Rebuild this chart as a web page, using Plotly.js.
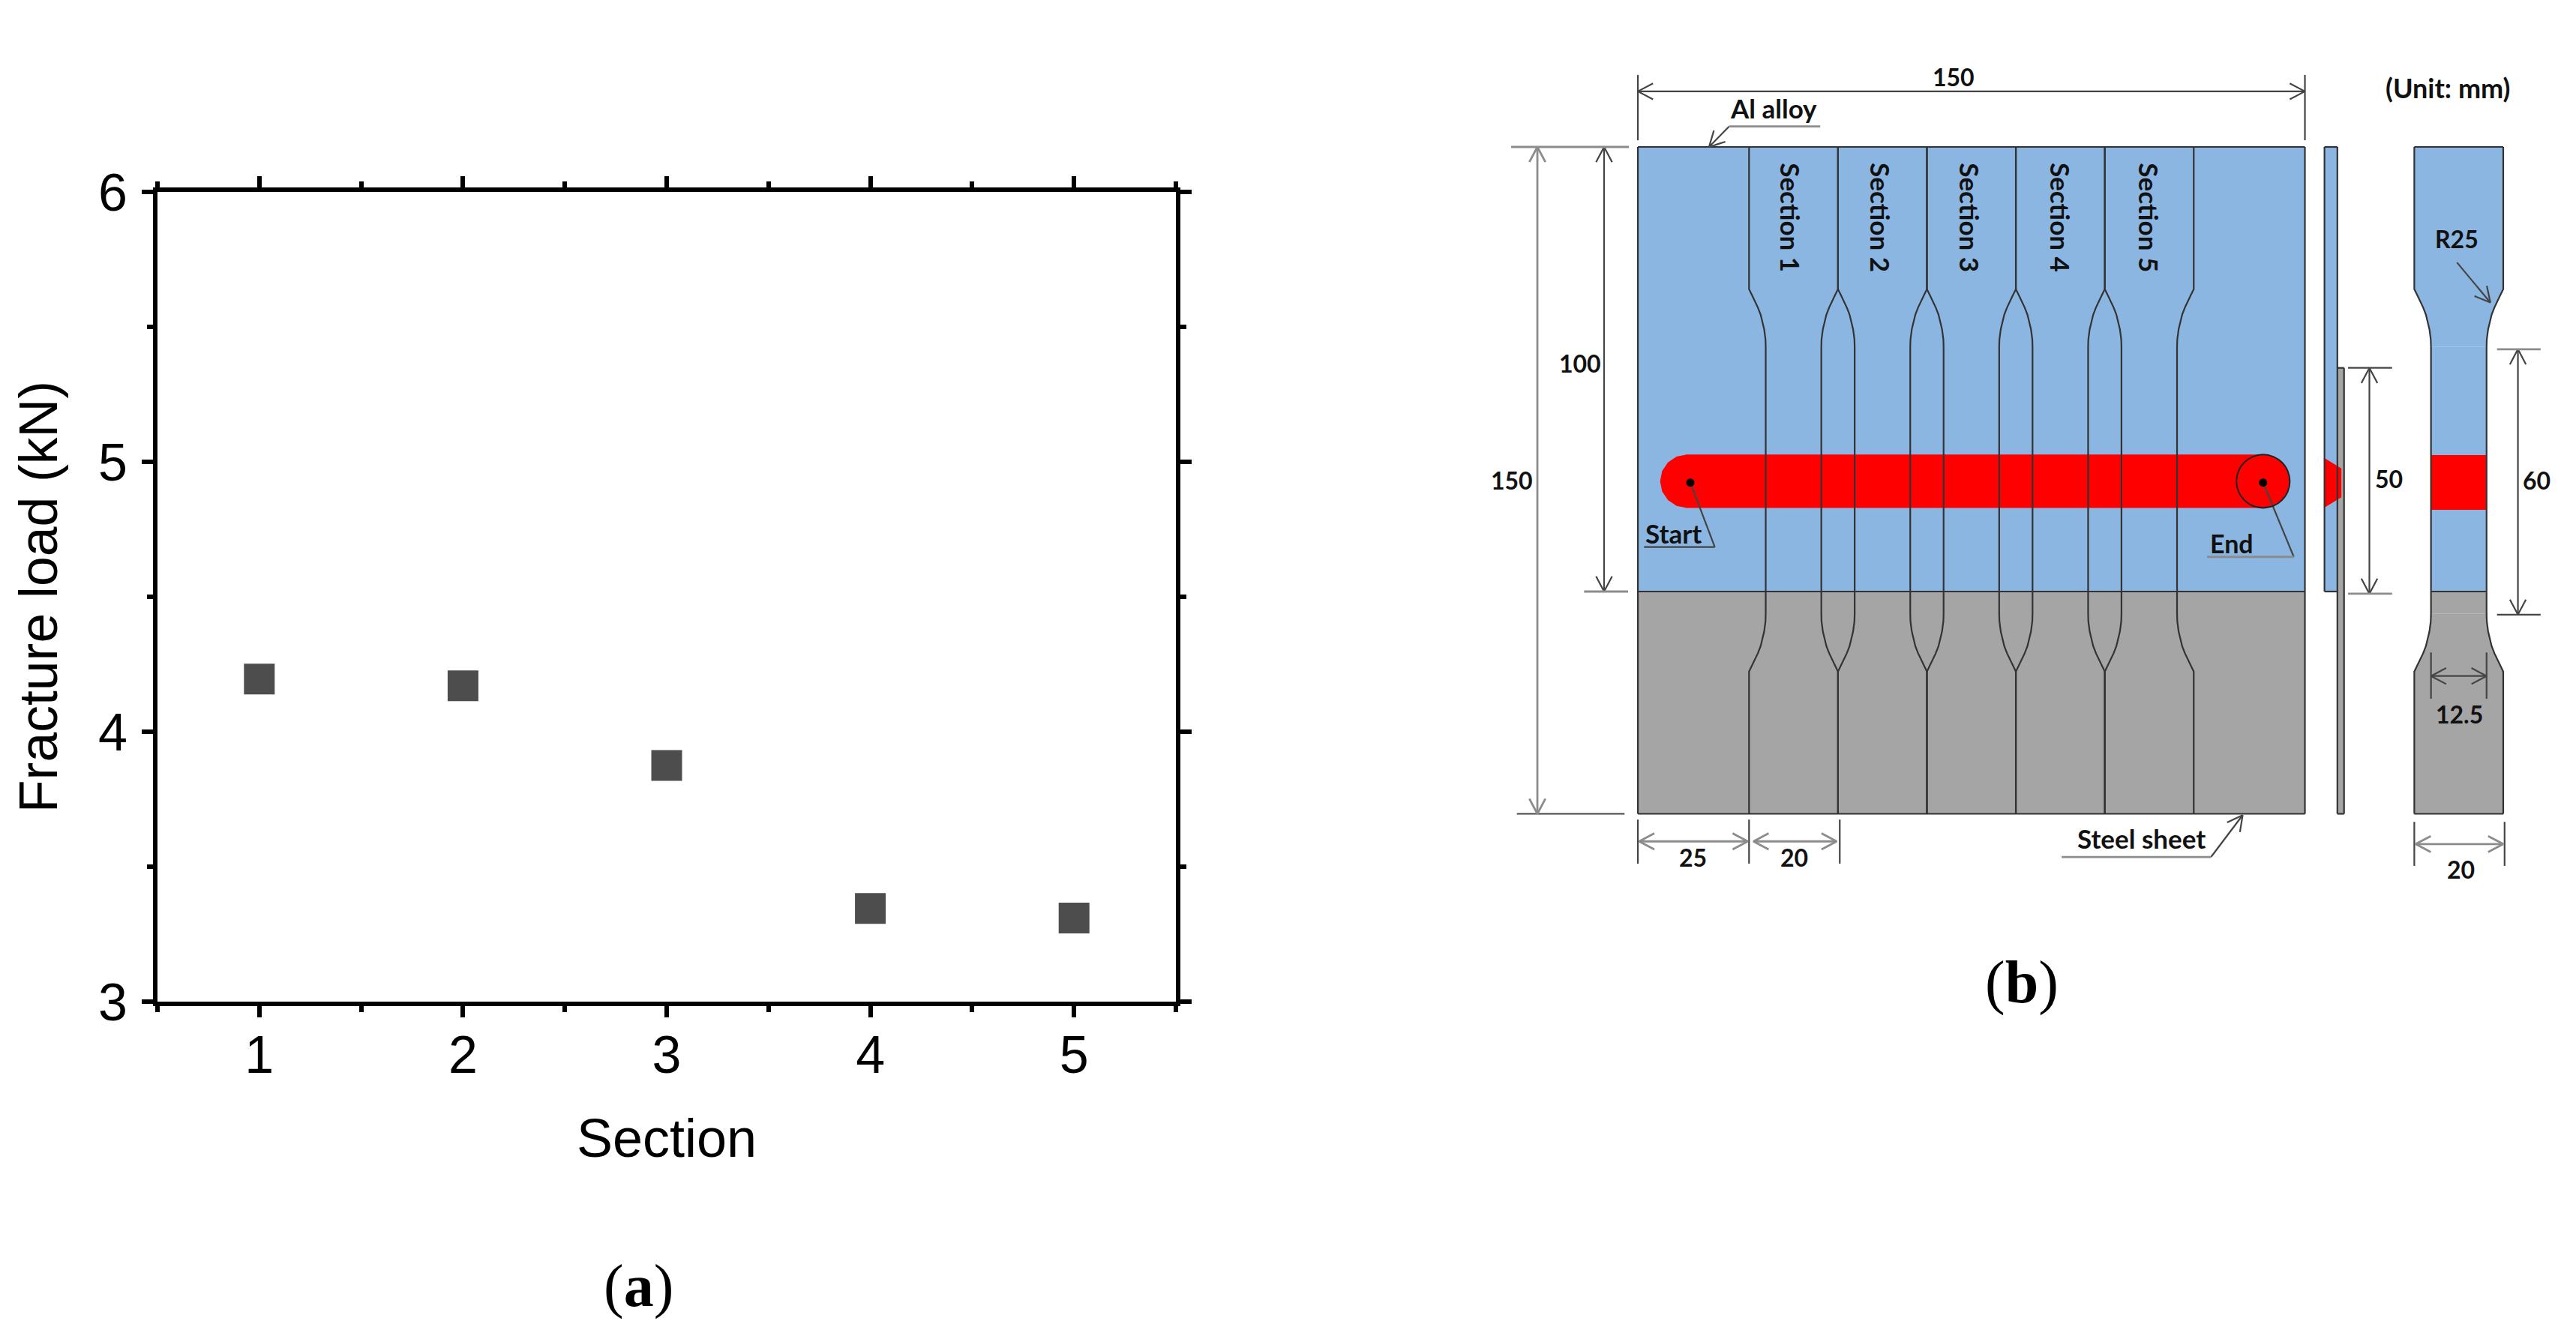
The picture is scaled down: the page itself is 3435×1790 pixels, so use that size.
<!DOCTYPE html>
<html>
<head>
<meta charset="utf-8">
<script src="https://cdn.plot.ly/plotly-3.0.1.min.js"></script>
<style>html,body{margin:0;padding:0;background:#fff}#plot{width:3435px;height:1790px}</style>
</head>
<body>
<div id="plot"></div>
<script>
// Panel (a) data
var sections = [1, 2, 3, 4, 5];
var fractureLoad = [4.195, 4.17, 3.875, 3.345, 3.31];
var xTickVals = [1, 2, 3, 4, 5];
var yTickVals = [3, 4, 5, 6];

// Panel (b) geometry, in millimetres
var plateWidth = 150, plateHeight = 150, jointY = 100;
var neckY = [32, 33.3, 34.6, 36.1, 37.7, 39.3, 41, 43.3, 45];
var neckDX = [0, 0.65, 1.3, 1.98, 2.6, 3.05, 3.4, 3.7, 3.75];
var sectionEdges = [[25, 1], [45, -1], [45, 1], [65, -1], [65, 1], [85, -1], [85, 1], [105, -1], [105, 1], [125, -1]];
var sectionLabels = ['Section 1', 'Section 2', 'Section 3', 'Section 4', 'Section 5'];
var sectionLabelX = [34.4, 54.5, 74.7, 95, 115];
var capDX = [0, 2.3, 4.24, 5.54, 6, 5.54, 4.24, 2.3, 0];
var capDY = [-6, -5.54, -4.24, -2.3, 0, 2.3, 4.24, 5.54, 6];
var weldStart = 11, weldEnd = 140.6, weldY = 75.2;

var DB0 = 174.6, DB1 = 194.6;   // specimen side view

function profile(xc, dir) {
  var xs = [xc], ys = [0];
  neckY.forEach(function (v, i) { xs.push(xc + dir * neckDX[i]); ys.push(v); });
  for (var i = neckY.length - 1; i >= 0; i--) { xs.push(xc + dir * neckDX[i]); ys.push(150 - neckY[i]); }
  xs.push(xc); ys.push(150);
  return [xs, ys];
}
function fillTrace(xs, ys, color) {
  return {x: xs, y: ys, xaxis: 'x2', yaxis: 'y2', type: 'scatter', mode: 'lines', fill: 'toself',
    fillcolor: color, line: {width: 0, color: color}, hoverinfo: 'skip', showlegend: false};
}
function lineTrace(segs, color, width) {
  var xs = [], ys = [];
  segs.forEach(function (s) { xs = xs.concat(s[0], [null]); ys = ys.concat(s[1], [null]); });
  return {x: xs, y: ys, xaxis: 'x2', yaxis: 'y2', type: 'scatter', mode: 'lines',
    line: {color: color, width: width}, hoverinfo: 'skip', showlegend: false};
}
function seg(x1, y1, x2, y2) { return [[x1, x2], [y1, y2]]; }
function vee(tx, ty, fx, fy) {   // open arrowhead at (tx,ty) pointing away from (fx,fy)
  var dx = fx - tx, dy = fy - ty, L = Math.sqrt(dx * dx + dy * dy);
  dx /= L; dy /= L;
  var a = 3.4, b = 1.8;
  return [[tx + dx * a - dy * b, tx, tx + dx * a + dy * b], [ty + dy * a + dx * b, ty, ty + dy * a - dx * b]];
}
function dim(x1, y1, x2, y2) { return [seg(x1, y1, x2, y2), vee(x1, y1, x2, y2), vee(x2, y2, x1, y1)]; }

// Fills
var weldCapX = capDX.map(function (d) { return weldEnd + d; })
  .concat(capDX.map(function (d) { return weldStart - d; }).reverse());
var weldCapY = capDY.map(function (d) { return weldY + d; })
  .concat(capDY.map(function (d) { return weldY + d; }).reverse());

var leftDB = profile(DB0, 1), rightDB = profile(DB1, -1);
function dbPart(y0, y1) {
  var xs = [], ys = [];
  for (var i = 0; i < leftDB[0].length; i++) if (leftDB[1][i] >= y0 && leftDB[1][i] <= y1) { xs.push(leftDB[0][i]); ys.push(leftDB[1][i]); }
  var rx = [], ry = [];
  for (var j = 0; j < rightDB[0].length; j++) if (rightDB[1][j] >= y0 && rightDB[1][j] <= y1) { rx.push(rightDB[0][j]); ry.push(rightDB[1][j]); }
  return [xs.concat(rx.reverse()), ys.concat(ry.reverse())];
}
var dbTop = dbPart(0, 100), dbBot = dbPart(100, 150);
var dbTopX = dbTop[0].slice(), dbTopY = dbTop[1].slice();
var dbBotX = dbBot[0].slice(), dbBotY = dbBot[1].slice();

var BLUE = '#8AB6E1', GRAY = '#A5A5A5', RED = '#FF0000', DARK = '#333333';
var traces = [
  {x: sections, y: fractureLoad, type: 'scatter', mode: 'markers',
   marker: {symbol: 'square', size: 41, color: '#4D4D4D'}, hoverinfo: 'skip', showlegend: false},
  fillTrace([0, plateWidth, plateWidth, 0, 0], [0, 0, jointY, jointY, 0], BLUE),
  fillTrace([0, plateWidth, plateWidth, 0, 0], [jointY, jointY, plateHeight, plateHeight, jointY], GRAY),
  fillTrace(weldCapX, weldCapY, RED),
  fillTrace([154.4, 157.3, 157.3, 154.4, 154.4], [0, 0, 100, 100, 0], BLUE),
  fillTrace([157.3, 158.8, 158.8, 157.3, 157.3], [49.7, 49.7, 150, 150, 49.7], GRAY),
  fillTrace([154.4, 158.2, 158.2, 154.4, 154.4], [70, 72.3, 78.8, 81.1, 70], RED),
  fillTrace(dbTopX, dbTopY, BLUE),
  fillTrace([178.35, 190.85, 190.85, 178.35, 178.35], [45, 45, 100, 100, 45], BLUE),
  fillTrace([178.35, 190.85, 190.85, 178.35, 178.35], [100, 100, 105, 105, 100], GRAY),
  fillTrace(dbBotX, dbBotY, GRAY),
  fillTrace([178.35, 190.85, 190.85, 178.35, 178.35], [69.3, 69.3, 81.6, 81.6, 69.3], RED)
];

var thin = [
  seg(0, 0, plateWidth, 0), seg(0, plateHeight, plateWidth, plateHeight),
  seg(0, 0, 0, plateHeight), seg(plateWidth, 0, plateWidth, plateHeight), seg(0, jointY, plateWidth, jointY),
  seg(154.4, 0, 154.4, 100), seg(157.3, 0, 157.3, 150), seg(158.8, 49.7, 158.8, 150),
  seg(154.4, 0, 157.3, 0), seg(154.4, 100, 157.3, 100), seg(157.3, 49.7, 158.8, 49.7), seg(157.3, 150, 158.8, 150),
  seg(DB0, 0, DB1, 0), seg(DB0, 150, DB1, 150), seg(178.35, 100, 190.85, 100), leftDB, rightDB
];
sectionEdges.forEach(function (e) { thin.push(profile(e[0], e[1])); });

var dims = [].concat(
  dim(0, -12.5, plateWidth, -12.5),
  dim(-7.6, 0, -7.6, jointY),
  dim(164.5, 49.7, 164.5, 100.5),
  dim(197.9, 45.5, 197.9, 105.2),
  dim(178.35, 119, 190.85, 119),
  [seg(0, -16.2, 0, -1.5), seg(150, -16.2, 150, -1.5),
   seg(0, 151.3, 0, 161.2), seg(25, 151.3, 25, 161.2), seg(45.4, 151.3, 45.4, 161.2),
   seg(DB0, 151.8, DB0, 161.7), seg(194.9, 151.8, 194.9, 161.7),
   seg(178.35, 113.7, 178.35, 124.1), seg(190.85, 113.7, 190.85, 124.1),
   seg(-27.2, 150, -3, 150), seg(159.7, 49.7, 169.6, 49.7), seg(193.2, 105.2, 203, 105.2)],
  // leaders
  [seg(20.5, -4.6, 16, 0), vee(16, 0, 20.5, -4.6),
   seg(1.4, 90, 17.3, 90), seg(17.3, 90, 11.8, 75.5),
   seg(147.5, 92.2, 140.6, 75.5),
   seg(184.2, 26, 191.7, 35), vee(191.7, 35, 184.2, 26),
   seg(128.9, 159.7, 136, 150.3), vee(136, 150.3, 128.9, 159.7)]
);
var grayDims = [].concat(
  dim(-22.6, 0, -22.6, plateHeight),
  dim(0.3, 156.2, 24.7, 156.2),
  dim(26, 156.2, 44.7, 156.2),
  dim(174.9, 156.8, 194.6, 156.8),
  [seg(-28.5, 0, -2, 0), seg(-12.1, 100, -2.2, 100), seg(159.7, 100.5, 169.6, 100.5), seg(193.2, 45.5, 203, 45.5),
   seg(41, -4.6, 20.5, -4.6), seg(128, 92.2, 147.5, 92.2), seg(95.3, 159.7, 128.9, 159.7)]
);

traces.push(lineTrace(thin, DARK, 2.2));
traces.push(lineTrace(dims, '#444444', 2.2));
traces.push(lineTrace(grayDims, '#8c8c8c', 2.8));

var endCircleX = capDX.map(function (d) { return weldEnd + d; }).concat(capDX.map(function (d) { return weldEnd - d; }).reverse());
var endCircleY = capDY.map(function (d) { return weldY + d; }).concat(capDY.map(function (d) { return weldY + d; }).reverse());
traces.push({x: endCircleX, y: endCircleY, xaxis: 'x2', yaxis: 'y2', type: 'scatter', mode: 'lines',
  line: {color: '#222', width: 2, shape: 'spline'}, hoverinfo: 'skip', showlegend: false});
traces.push({x: [11.8, 140.6], y: [75.5, 75.5], xaxis: 'x2', yaxis: 'y2', type: 'scatter', mode: 'markers',
  marker: {color: '#000', size: 11}, hoverinfo: 'skip', showlegend: false});

function note(text, x, y, size, angle) {
  return {text: text, x: x, y: y, xref: 'x2', yref: 'y2', showarrow: false, xanchor: 'center', yanchor: 'middle',
    font: {family: 'Lato, "Open Sans", sans-serif', size: size, color: '#111111', weight: 700}, textangle: angle || 0};
}
var annotations = [
  note('150', 71, -15.7, 32), note('Al alloy', 30.5, -8.8, 35), note('(Unit: mm)', 182.2, -13.3, 36),
  note('100', -13, 48.7, 32), note('150', -28.4, 74.9, 32), note('Start', 8, 86.9, 35), note('End', 133.6, 89.2, 34),
  note('R25', 184.2, 20.7, 32), note('50', 168.8, 74.6, 32), note('60', 202.1, 74.9, 32), note('12.5', 184.8, 127.6, 32),
  note('20', 185, 162.4, 32), note('25', 12.4, 159.7, 32), note('20', 35.2, 159.7, 32), note('Steel sheet', 113.2, 155.5, 35)
];
sectionLabels.forEach(function (t, i) { annotations.push(note(t, sectionLabelX[i], 15.9, 35, 90)); });
var CAP = {family: '"Liberation Serif", serif', size: 80, color: '#000'};
annotations.push({text: '(<b>a</b>)', xref: 'paper', yref: 'paper', x: 851 / 3435, y: 1 - 1715 / 1790, showarrow: false,
  xanchor: 'center', yanchor: 'middle', font: CAP});
annotations.push({text: '(<b>b</b>)', xref: 'paper', yref: 'paper', x: 2696 / 3435, y: 1 - 1310 / 1790, showarrow: false,
  xanchor: 'center', yanchor: 'middle', font: CAP});

var AX = {family: '"Liberation Sans", Arial, sans-serif', size: 70, color: '#000'};
var AXT = {family: '"Liberation Sans", Arial, sans-serif', size: 72, color: '#000'};
var AXY = {family: '"Liberation Sans", Arial, sans-serif', size: 71.5, color: '#000'};
function pxX(v) { return v / 3435; }
function pxY(v) { return 1 - v / 1790; }
var layout = {
  width: 3435, height: 1790, margin: {l: 0, r: 0, t: 0, b: 0, pad: 0},
  paper_bgcolor: '#fff', plot_bgcolor: 'rgba(0,0,0,0)', showlegend: false, hovermode: false,
  xaxis: {domain: [pxX(210), pxX(1568)], range: [0.5, 5.5], tickmode: 'array', tickvals: xTickVals,
    ticks: 'outside', ticklen: 15, tickwidth: 6, tickcolor: '#000', showline: true, linewidth: 6, linecolor: '#000',
    mirror: 'ticks', showgrid: false, zeroline: false, tickfont: AX, automargin: false, ticklabelstandoff: -10,
    minor: {dtick: 0.5, tick0: 0.5, ticks: 'outside', ticklen: 8, tickwidth: 6, tickcolor: '#000', showgrid: false},
    title: {text: 'Section', font: AXT, standoff: 50}},
  yaxis: {domain: [pxY(1336), pxY(256)], range: [3, 6], tickmode: 'array', tickvals: yTickVals,
    ticks: 'outside', ticklen: 15, tickwidth: 6, tickcolor: '#000', showline: true, linewidth: 6, linecolor: '#000',
    mirror: 'ticks', showgrid: false, zeroline: false, tickfont: AX, automargin: false, ticklabelstandoff: 5,
    minor: {dtick: 0.5, tick0: 3, ticks: 'outside', ticklen: 8, tickwidth: 6, tickcolor: '#000', showgrid: false},
    title: {text: 'Fracture load (kN)', font: AXY, standoff: 33}},
  xaxis2: {domain: [pxX(1900), 1], range: [-47.9, 210.96], visible: false, fixedrange: true, anchor: 'y2'},
  yaxis2: {domain: [0, 1], range: [268.8, -33.05], visible: false, fixedrange: true, anchor: 'x2'},
  annotations: annotations
};
Plotly.newPlot('plot', traces, layout, {displayModeBar: false, staticPlot: true});
</script>
</body>
</html>
